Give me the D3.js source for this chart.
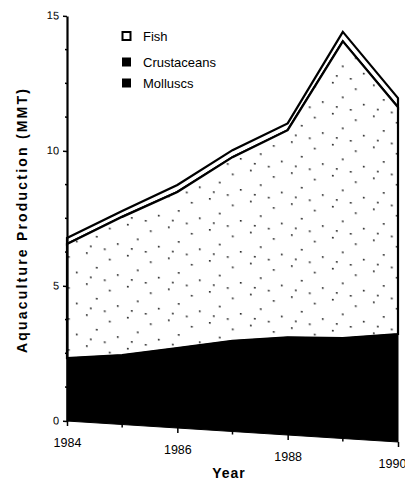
<!DOCTYPE html>
<html>
<head>
<meta charset="utf-8">
<script src="https://cdn.jsdelivr.net/npm/d3@7"></script>
<style>
  body { margin: 0; background: #fff; }
  svg { display: block; font-family: "Liberation Sans", Arial, Helvetica, sans-serif; }
</style>
</head>
<body>
<svg id="chart" width="405" height="489"></svg>
<script>
// values (MMT), stacked molluscs -> fish -> crustaceans
var years       = [1984, 1985, 1986, 1987, 1988, 1989, 1990];
var molluscs    = [2.33, 2.57, 2.96, 3.36, 3.62, 3.72, 4.0];
var fish        = [4.23, 5.12, 5.78, 6.8, 7.67, 10.99, 8.4];
var crustaceans = [0.22, 0.22, 0.26, 0.26, 0.25, 0.35, 0.34];
var legendNames = ["Fish", "Crustaceans", "Molluscs"];
var yTicks = [0, 5, 10, 15];
var xTicks = [1984, 1986, 1988, 1990];

var svg = d3.select("#chart");

// the scanned page is slightly sheared: x axis runs downhill
var x0 = 67, shear = 21 / 331;
var shearDeg = Math.atan(shear) * 180 / Math.PI;

var x = d3.scaleLinear().domain([1984, 1990]).range([x0, 398]);
var y = d3.scaleLinear().domain([0, 15]).range([421, 16]);

// sparse stipple for the fish area
var defs = svg.append("defs");
var pat = defs.append("pattern")
	.attr("id", "stipple")
	.attr("patternUnits", "userSpaceOnUse")
	.attr("width", 41).attr("height", 31);
pat.append("rect").attr("width", 41).attr("height", 31).attr("fill", "#fff");
[[4, 3], [27, 8], [14, 17], [35, 23], [8, 27], [22, 29]].forEach(function(p) {
	pat.append("rect").attr("x", p[0]).attr("y", p[1])
		.attr("width", 1.6).attr("height", 1.6).attr("fill", "#111");
});

var rows = years.map(function(yr, i) {
	return { year: yr, m: molluscs[i], f: molluscs[i] + fish[i], c: molluscs[i] + fish[i] + crustaceans[i] };
});

var g = svg.append("g")
	.attr("transform", "matrix(1," + shear + ",0,1,0," + (-shear * x0) + ")");

var area = function(lo, hi) {
	return d3.area().x(function(d) { return x(d.year); })
		.y0(function(d) { return y(lo(d)); })
		.y1(function(d) { return y(hi(d)); });
};

// crustaceans band
g.append("path").datum(rows)
	.attr("d", area(function(d) { return d.f; }, function(d) { return d.c; }))
	.attr("fill", "#fff").attr("stroke", "#000").attr("stroke-width", 2.2);

// fish area
g.append("path").datum(rows)
	.attr("d", area(function(d) { return d.m; }, function(d) { return d.f; }))
	.attr("fill", "url(#stipple)").attr("stroke", "#000").attr("stroke-width", 2.2);

// molluscs
g.append("path").datum(rows)
	.attr("d", area(function() { return 0; }, function(d) { return d.m; }))
	.attr("fill", "#000").attr("stroke", "#000").attr("stroke-width", 1);

// y axis
var yAxis = g.append("g").attr("transform", "translate(" + x0 + ",0)")
	.call(d3.axisLeft(y).tickValues(yTicks).tickSize(4).tickSizeOuter(0).tickPadding(4));
yAxis.select(".domain").attr("stroke-width", 2.2);
yAxis.selectAll(".tick line").attr("stroke-width", 1.5);
yAxis.selectAll("text").attr("font-size", 11).attr("fill", "#000");
yAxis.append("g").selectAll("line")
	.data(d3.range(0, 15.01, 1.25).filter(function(v) { return yTicks.indexOf(v) < 0; }))
	.join("line")
	.attr("x1", -2).attr("x2", 0)
	.attr("y1", function(d) { return y(d); }).attr("y2", function(d) { return y(d); })
	.attr("stroke", "#000").attr("stroke-width", 1.5);

// x axis
var xAxis = g.append("g").attr("transform", "translate(0," + y(0) + ")")
	.call(d3.axisBottom(x).tickValues(xTicks).tickFormat(d3.format("d"))
		.tickSize(5).tickSizeOuter(0).tickPadding(12));
xAxis.select(".domain").remove();
xAxis.selectAll(".tick line").attr("stroke-width", 1.5);
xAxis.selectAll("text").attr("font-size", 12.5).attr("fill", "#000")
	.attr("transform", function(d) {
		// last label sits against the page edge, nudge it in
		return (d == 1990 ? "translate(-6,0) " : "") + "skewY(" + (-shearDeg) + ")";
	});
xAxis.append("g").selectAll("line")
	.data(years.filter(function(v) { return xTicks.indexOf(v) < 0; }))
	.join("line")
	.attr("x1", function(d) { return x(d); }).attr("x2", function(d) { return x(d); })
	.attr("y1", 0).attr("y2", 3)
	.attr("stroke", "#000").attr("stroke-width", 1.5);

// titles
svg.append("text")
	.attr("transform", "translate(27,220) rotate(-90)")
	.attr("text-anchor", "middle")
	.attr("font-size", 14).attr("font-weight", "bold")
	.attr("letter-spacing", 2.2)
	.text("Aquaculture  Production  (MMT)");

svg.append("text")
	.attr("x", 229).attr("y", 478)
	.attr("text-anchor", "middle")
	.attr("font-size", 14).attr("font-weight", "bold")
	.attr("letter-spacing", 1)
	.text("Year");

// legend
var legendY = [32, 58, 79];
var legend = svg.append("g");
legendNames.forEach(function(name, i) {
	legend.append("rect")
		.attr("x", 122.5).attr("y", legendY[i]).attr("width", 8).attr("height", 8)
		.attr("fill", i == 0 ? "#fff" : "#000")
		.attr("stroke", "#000").attr("stroke-width", i == 0 ? 2 : 1);
	legend.append("text")
		.attr("x", 143).attr("y", legendY[i] + 9)
		.attr("font-size", 13)
		.text(name);
});
</script>
</body>
</html>
